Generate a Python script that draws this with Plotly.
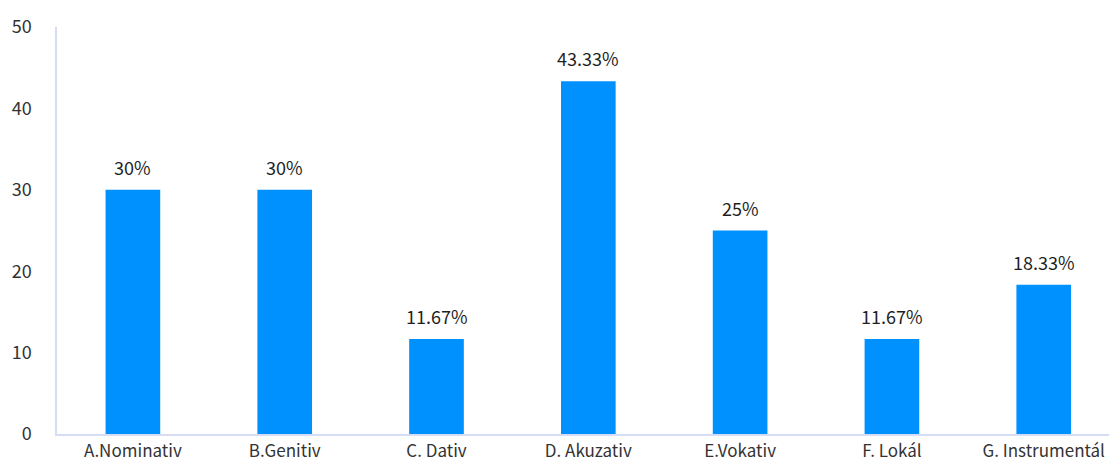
import plotly.graph_objects as go

categories = ["A.Nominativ", "B.Genitiv", "C. Dativ", "D. Akuzativ", "E.Vokativ", "F. Lokál", "G. Instrumentál"]
values = [30, 30, 11.67, 43.33, 25, 11.67, 18.33]
labels = ["30%", "30%", "11.67%", "43.33%", "25%", "11.67%", "18.33%"]
y_ticks = [0, 10, 20, 30, 40, 50]

FONT = "Noto Sans CJK SC, Open Sans, sans-serif"
AXIS_COLOR = "#D6DCF3"

fig = go.Figure()
fig.add_trace(go.Bar(
    x=categories, y=values,
    marker=dict(color="#0091FF", line=dict(width=0)),
    width=0.36,
    hoverinfo="skip",
))

for c, v, t in zip(categories, values, labels):
    fig.add_annotation(x=c, y=v, text=t, showarrow=False, yshift=23,
                       font=dict(family=FONT, size=18, color="#1f1f1f"))

fig.update_layout(
    width=1109, height=466,
    margin=dict(l=57, r=0, t=27, b=32, autoexpand=False),
    paper_bgcolor="white", plot_bgcolor="white",
    showlegend=False,
    font=dict(family=FONT, size=18, color="#333333"),
)
fig.update_xaxes(
    range=[-0.5, 6.43], automargin=False,
    showline=True, linecolor=AXIS_COLOR, linewidth=1.5,
    showgrid=False, ticks="", ticklabelstandoff=1,
    tickfont=dict(family=FONT, size=17, color="#333333"),
    fixedrange=True,
)
fig.update_yaxes(
    range=[0, 50], tickvals=y_ticks, automargin=False,
    showline=True, linecolor=AXIS_COLOR, linewidth=1.5,
    showgrid=False, zeroline=False, ticks="", ticklabelstandoff=20,
    tickfont=dict(family=FONT, size=18, color="#333333"),
    fixedrange=True,
)

fig.write_html("out.html")
